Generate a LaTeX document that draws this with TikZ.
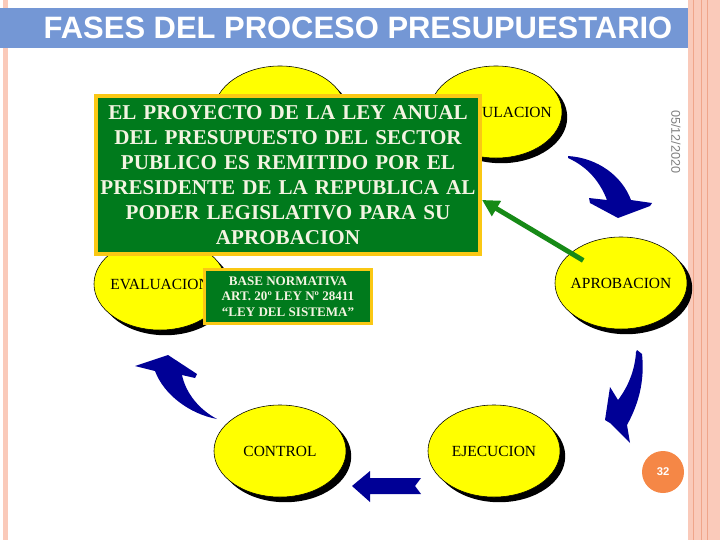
\documentclass[tikz,border=0pt]{standalone}
\usepackage{fontspec}
\setmainfont{Liberation Serif}
\newfontfamily\headfont{Liberation Sans}
\usetikzlibrary{arrows.meta, shapes.geometric, shadows, calc}

\definecolor{barblue}{RGB}{116,151,213}
\definecolor{stageyellow}{RGB}{255,255,0}
\definecolor{flowblue}{RGB}{0,0,150}
\definecolor{notegreen}{RGB}{0,122,28}
\definecolor{notegold}{RGB}{250,200,20}
\definecolor{notetext}{RGB}{244,244,226}
\definecolor{linkgreen}{RGB}{22,138,22}
\definecolor{pagecircle}{RGB}{245,135,70}
\definecolor{stripe}{RGB}{250,202,186}
\definecolor{stripeline}{RGB}{240,165,138}

\begin{document}
\begin{tikzpicture}[x=0.025cm, y=-0.025cm,
      stage/.style={ellipse, draw=black, thin, fill=stageyellow,
                    minimum width=3.3cm, minimum height=2.3cm, inner sep=0pt,
                    drop shadow={shadow xshift=0.13cm, shadow yshift=-0.13cm,
                                 fill=black, opacity=1}},
      tag/.style={font=\fontsize{11}{13}\selectfont},
      note/.style={draw=notegold, fill=notegreen, text=notetext, align=center,
                   inner sep=0pt, font=\bfseries},
      flow/.style={fill=flowblue, draw=none},
      link/.style={draw=linkgreen, line width=3.5pt,
                   -{Triangle[length=12pt, width=12pt]}}]

    \useasboundingbox (0,0) rectangle (720,540);

    % page frame: pink stripes left and right
    \fill[stripe] (3,0) rectangle (8,540);
    \fill[stripe] (688,0) rectangle (720,540);
    \foreach \sx in {693,701,707}
      \draw[stripeline, line width=0.6pt] (\sx,0) -- (\sx,540);

    % title bar
    \fill[barblue] (0,8) rectangle (688,48);
    \node[font=\headfont\bfseries\fontsize{22}{24}\selectfont, text=white]
      (title) at (358,28) {FASES DEL PROCESO PRESUPUESTARIO};

    % the six phases of the cycle
    \node[stage] (prog) at (280,112) {};
    \node[stage, label={[tag, xshift=0.525cm]center:ULACION}] (form) at (496,112) {};
    \node[stage, label={[tag]center:EVALUACION}] (eval) at (160,284) {};
    \node[stage, label={[tag]center:APROBACION}] (apro) at (621,283) {};
    \node[stage, label={[tag]center:CONTROL}] (ctrl) at (280,451) {};
    \node[stage, label={[tag]center:EJECUCION}] (ejec) at (494,451) {};

    % block arrows between phases
    \fill[flow] (568,156) .. controls (598,158) and (622,176) .. (631,200)
      -- (652,203) -- (650,206) -- (618,218) -- (590,203) -- (589,198)
      -- (607,200) .. controls (600,182) and (588,167) .. (568,158) -- cycle;
    \fill[flow] (637,350) -- (642,354) .. controls (645,382) and (638,405) .. (627,425)
      -- (630,443) -- (610,423) -- (605,420) -- (610,387) -- (618,400)
      .. controls (628,387) and (635,370) .. (636,352) -- cycle;
    \fill[flow] (352,486) -- (370,471) -- (370,478) -- (421,478) -- (415,486)
      -- (421,494) -- (370,494) -- (370,502) -- cycle;
    \fill[flow] (217,419) .. controls (190,414) and (164,395) .. (155,371)
      -- (135,366) -- (168,355) -- (197,374) -- (195,378) -- (182,375)
      .. controls (186,394) and (200,410) .. (217,419) -- cycle;

    % notes
    \node[note, line width=2.8pt, minimum width=9.6cm, minimum height=3.95cm,
          text width=9.4cm, font=\bfseries\fontsize{15}{17.8}\selectfont]
      (prj) at (288,175) {EL PROYECTO DE LA LEY ANUAL\\DEL PRESUPUESTO DEL SECTOR\\
        PUBLICO ES REMITIDO POR EL\\PRESIDENTE DE LA REPUBLICA AL\\
        PODER LEGISLATIVO PARA SU\\APROBACION};
    \node[note, line width=2.1pt, minimum width=4.175cm, minimum height=1.35cm,
          font=\bfseries\fontsize{9.3}{11.2}\selectfont]
      (base) at (288,296.5) {BASE NORMATIVA\\ART. 20º LEY Nº 28411\\“LEY DEL SISTEMA”};

    % approval goes back to the bill
    \draw[link, shorten <=1.1cm] (apro.center) -- ($(prj.north east)!0.654!(prj.south east)$);

    % date and slide number
    \node[rotate=-90, font=\headfont\fontsize{9}{10}\selectfont, text=gray]
      (date) at (676,142) {05/12/2020};
    \node[circle, fill=pagecircle, minimum size=1.05cm, inner sep=0pt, text=white,
          font=\headfont\bfseries\fontsize{8}{9}\selectfont] (page) at (663,472) {32};

\end{tikzpicture}
\end{document}
